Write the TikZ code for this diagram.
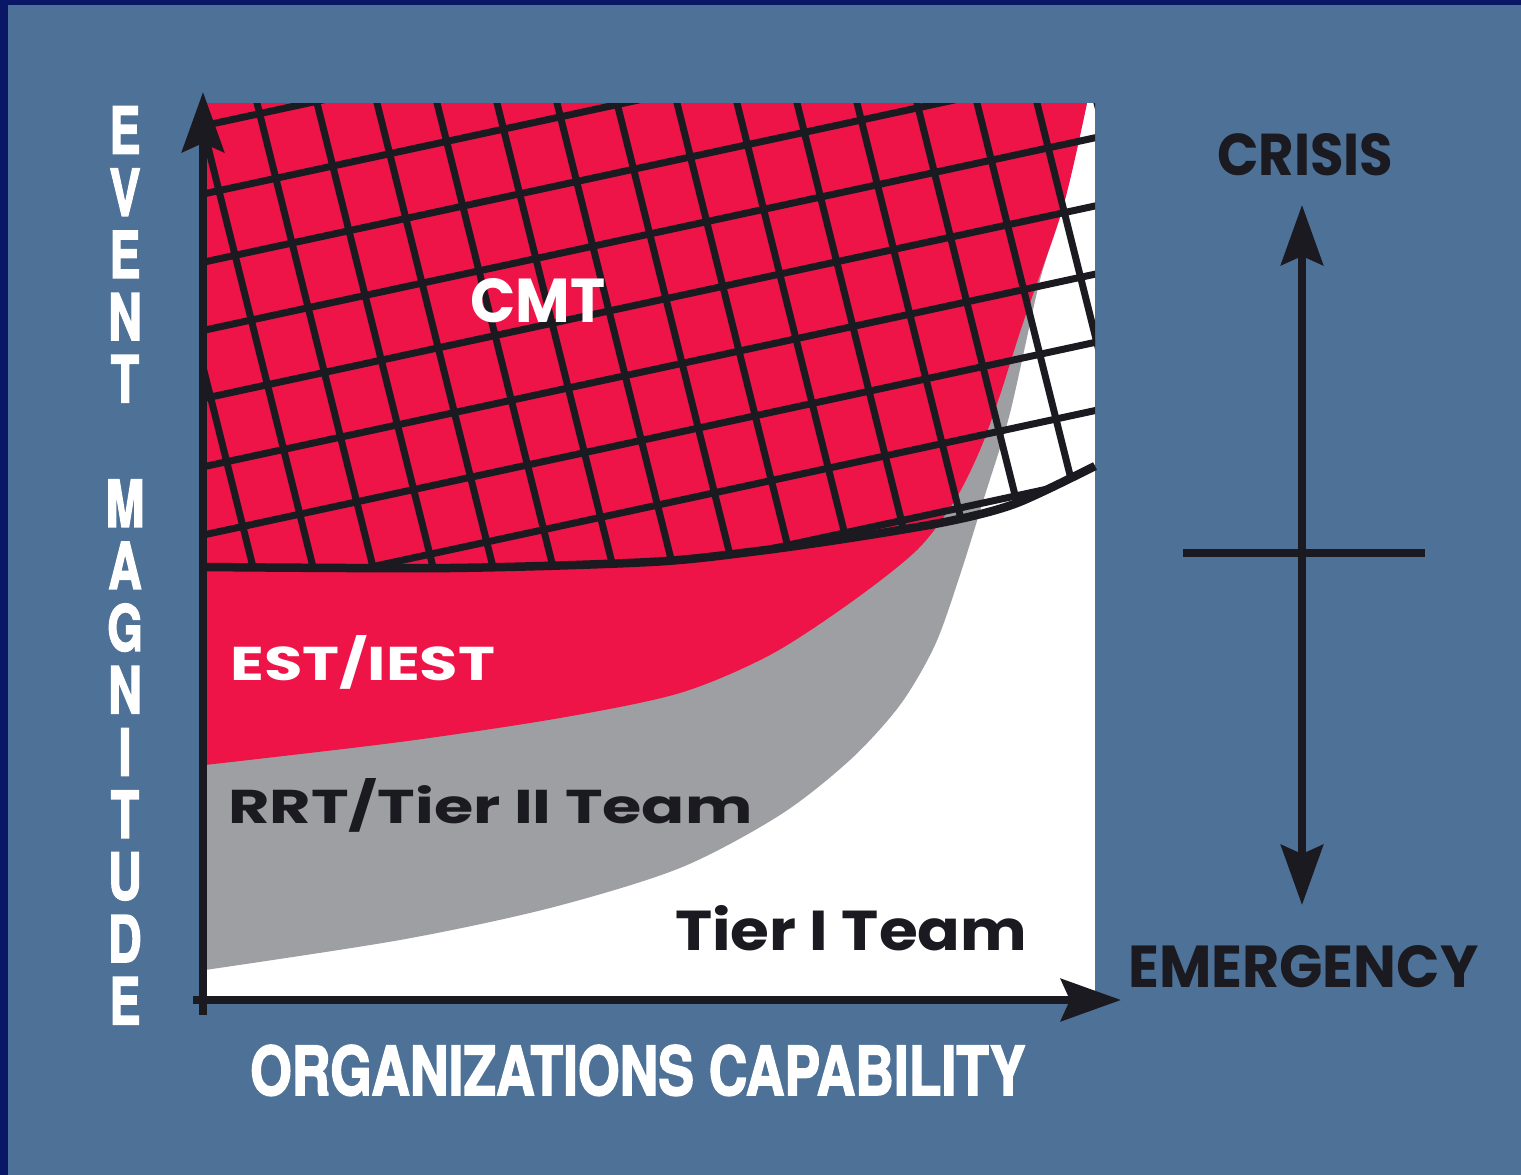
\documentclass[tikz,border=0pt]{standalone}
\usepackage{fontspec}
\usepackage{graphicx}
\usetikzlibrary{arrows.meta}
\newfontfamily\geo{Poppins}
\newfontfamily\heros{TeX Gyre Heros}[BoldFeatures={FakeBold=2.5}]
\definecolor{bgblue}{HTML}{4E7197}
\definecolor{navy}{HTML}{0A1766}
\definecolor{cmtred}{HTML}{EE1448}
\definecolor{rrtgray}{HTML}{9D9FA2}
\definecolor{ink}{HTML}{1A1A20}
\newcommand\vlet[1]{\scalebox{0.72}[1]{\resizebox{!}{47pt}{\heros\bfseries #1}}}
\newcommand\geob[3]{\resizebox{#1}{#2}{\geo\bfseries #3}}
\begin{document}
\begin{tikzpicture}[x=1pt,y=-1pt,
  gridline/.style={line width=7pt, draw=ink},
  tipA/.tip={Stealth[length=60pt,width=42pt,inset=9pt]},
  axisline/.style={line width=8.5pt, draw=ink, -tipA},
  lbl/.style={inner sep=0pt, anchor=base west},
  vlbl/.style={inner sep=0pt, anchor=center, text=white}]
\useasboundingbox (0,0) rectangle (1521,1175);
\fill[bgblue] (0,0) rectangle (1521,1175);
\fill[navy] (0,0) rectangle (1521,5);
\fill[navy] (0,0) rectangle (8,1175);
% chart area
\fill[white] (205,103) rectangle (1095,997);
% gray region
\fill[rrtgray] (205,103) -- plot[smooth] coordinates {(205,970) (400,940) (550,908) (680,868) (780,815) (850,760) (900,705) (935,645) (960,575) (985,495) (1010,413) (1040,280) (1063,207) (1087,103)} -- cycle;
% red region
\fill[cmtred] (205,103) -- plot[smooth] coordinates {(205,765) (400,742) (560,718) (680,693) (770,655) (850,603) (917,550) (955,500) (980,450) (1000,395) (1023,323) (1063,207) (1087,103)} -- cycle;
% grid in CMT region
\begin{scope}
\clip (1095,103) -- (205,103) -- plot[smooth] coordinates {(205,567) (450,568) (650,562) (750,552) (850,538) (950,521) (1017,503) (1095,466)} -- cycle;
\foreach \k in {-5,...,5} {
  \draw[gridline] (150,{330+68.2*\k+11.9}) -- (1150,{330+68.2*\k-204.1});
}
\foreach \k in {-4,...,14} {
  \draw[gridline] ({257+60*\k-13.25},50) -- ({257+60*\k+136.75},650);
}
\end{scope}
\draw[line width=8.5pt, ink] plot[smooth] coordinates {(205,567) (450,568) (650,562) (750,552) (850,538) (950,521) (1017,503) (1095,466)};
% axes
\coordinate (yb) at (203,1015);
\coordinate (yt) at (203,92);
\coordinate (xl) at (193,1000);
\coordinate (xr) at (1121,1000);
\draw[axisline] (yb) -- (yt);
\draw[axisline] (xl) -- (xr);
% crisis / emergency scale
\coordinate (cb) at (1302,905);
\coordinate (ct) at (1302,205);
\coordinate (ml) at (1183,553);
\coordinate (mr) at (1425,553);
\draw[line width=8pt, draw=ink, tipA-tipA] (cb) -- (ct);
\draw[line width=8pt, draw=ink] (ml) -- (mr);
% labels
\node[lbl, text=white] (cmt) at (470,322) {\geob{135pt}{44pt}{CMT}};
\node[lbl, text=white] (est) at (230,680) {\geob{265pt}{45pt}{EST/IEST}};
\node[lbl, text=ink] (rrt) at (228,823) {\geob{524pt}{45pt}{RRT/Tier II Team}};
\node[lbl, text=ink] (tier1) at (675,950) {\geob{352pt}{45pt}{Tier I Team}};
\node[lbl, text=ink] (crisis) at (1217,175) {\geob{176pt}{42pt}{CRISIS}};
\node[lbl, text=ink] (emerg) at (1128,987) {\geob{350pt}{42pt}{EMERGENCY}};
\node[lbl, text=white] (orgcap) at (250,1095) {\resizebox{775pt}{50pt}{\heros\bfseries ORGANIZATIONS CAPABILITY}};
\foreach \ch [count=\i] in {E,V,E,N,T}
  \node[vlbl] (ev\i) at (125,{130+62.2*(\i-1)}) {\vlet{\ch}};
\foreach \ch [count=\i] in {M,A,G,N,I,T,U,D,E}
  \node[vlbl] (mg\i) at (125,{130+62.2*(\i+5)}) {\vlet{\ch}};
\end{tikzpicture}
\end{document}
